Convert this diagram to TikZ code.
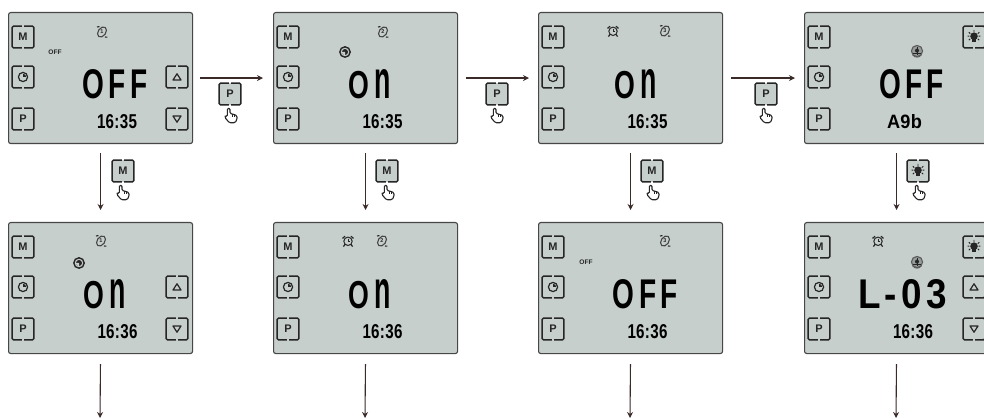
\documentclass[tikz,border=0pt]{standalone}
\usepackage{fontspec}
\usepackage{graphicx}
\setmainfont{Liberation Sans}
\usetikzlibrary{arrows.meta}
\definecolor{lcd}{HTML}{C6CFCB}
\definecolor{ink}{HTML}{262626}
\definecolor{arrowink}{HTML}{3A2A28}
\tikzset{
  lcdpanel/.style={draw=ink!85,line width=1.1pt,fill=lcd,rounded corners=2.2pt,minimum width=184pt,minimum height=131pt,inner sep=0pt,anchor=north west},
  btn/.style={minimum width=21.5pt,minimum height=21.5pt,inner sep=0pt,text=ink,font=\bfseries\fontsize{11}{11}\selectfont},
  brk/.style={draw=ink,line width=1.45pt,rounded corners=1.5pt},
  conn/.style={draw=arrowink,line width=1.1pt,-{Stealth[length=6pt,width=6pt]}},
  segbig/.style={inner sep=0pt,text=black},
  tiny/.style={inner sep=0pt,text=ink,font=\bfseries\fontsize{6.6}{7}\selectfont},
  iconclock/.pic={\draw[ink,line width=1.2pt] (0,0) circle (4.6pt);
    \fill[ink] (0,0) -- (0,-3.2) arc (90:0:3.2pt) -- cycle;},
  iconup/.pic={\draw[ink,line width=1.2pt,line join=round] (-4,3) -- (4,3) -- (0,-3.2) -- cycle;},
  icondown/.pic={\draw[ink,line width=1.2pt,line join=round] (-4,-3) -- (4,-3) -- (0,3.2) -- cycle;},
  iconbulb/.pic={\fill[ink] (0,-.8) circle (3.8pt);\fill[ink] (-1.9,1.5) rectangle (1.9,4.8);
    \draw[ink,line width=.9pt] (0,-7.2) -- (0,-5.2) (-5.2,-4.8) -- (-3.8,-3.4) (5.2,-4.8) -- (3.8,-3.4) (-6.4,-.8) -- (-4.6,-.8) (6.4,-.8) -- (4.6,-.8) (-5.2,3.2) -- (-3.8,1.8) (5.2,3.2) -- (3.8,1.8);},
  icontimer/.pic={\draw[ink!85,line width=1.1pt,rotate=-35] (0,0) ellipse (3.8pt and 5.6pt);
    \draw[ink,line width=1.1pt] (-5,-5) -- (-2.5,-5.4) (3,5) -- (5.4,5.2);
    \node[inner sep=0pt,text=ink,font=\bfseries\fontsize{5.5}{5.5}\selectfont] at (0,0) {#1};},
  iconfull/.pic={\draw[ink,line width=1.4pt,fill=lcd] (0,0) circle (5.2pt);
    \fill[ink] (0,0) circle (3pt);\fill[lcd] (0,0) -- (-3.1,0) arc (180:270:3.1pt) -- cycle;},
  iconalarm/.pic={\draw[ink,line width=1pt] (0,.3) circle (4.2pt);
    \draw[ink,line width=.8pt] (0,-2.2) -- (0,.4) -- (2,.4);
    \draw[ink,line width=1.2pt] (-5.4,-2.6) -- (-3,-4.8) (5.4,-2.6) -- (3,-4.8) (-3,3.4) -- (-4.6,5.6) (3,3.4) -- (4.6,5.6);},
  iconfan/.pic={\draw[ink!75,line width=1.1pt,fill=lcd!70!ink] (0,0) circle (5.6pt);
    \fill[ink] (0,-.4) circle (2pt);
    \draw[ink,line width=.8pt] (0,-4) -- (0,3.6) (-3.6,2.2) -- (3.6,2.2);
    \draw[ink!75,line width=1pt] (-4.2,4) .. controls (-2,6.8) and (2,6.8) .. (4.2,4);},
  iconhand/.pic={\draw[ink,line width=1.1pt,fill=white,rounded corners=1.3pt,line join=round]
    (-3.6,-7.8) -- (-1,-7.8) -- (-1,-2.4) -- (3.2,-1.6) -- (6,-.2) -- (6,3.4) -- (4,6.8) -- (-1.6,6.8) -- (-6.2,1.4) -- (-5.6,-.6) -- (-3.6,.6) -- cycle;
    \draw[ink,line width=.7pt] (1,-1.8) -- (1,.6) (3.5,-1.2) -- (3.5,.8);},
}
\newcommand\seg[3]{\resizebox{#1pt}{#2pt}{\bfseries\addfontfeature{LetterSpace=16}#3}}
\newcommand\segtime[1]{\resizebox{40pt}{14pt}{\bfseries\addfontfeature{LetterSpace=2}#1}}
\newcommand\segon{O\hspace{.22em}\scalebox{1}[1.38]{n}}
% \btn{name}{x}{y}{content}{fill}
\newcommand\btn[5]{%
  \node[btn,fill=#5] (#1) at (#2,#3) {#4};
  \draw[brk] ([xshift=-1.2pt]#1.north) -| (#1.south west) -- ([xshift=-1.2pt]#1.south);
  \draw[brk] ([xshift=1.2pt]#1.north) -| (#1.south east) -- ([xshift=1.2pt]#1.south);}
\newcommand\lcdcore[1]{%
  \btn{#1m}{15}{25}{M}{lcd}
  \btn{#1c}{15}{65}{}{lcd}
  \pic at (#1c.center) {iconclock};
  \btn{#1p}{15}{107}{P}{lcd}}
\newcommand\lcdarrows[2]{%
  \btn{#1u}{#2}{65}{}{lcd}
  \pic at (#1u.center) {iconup};
  \btn{#1d}{#2}{107}{}{lcd}
  \pic at (#1d.center) {icondown};}
\begin{document}
\begin{tikzpicture}[x=1pt,y=-1pt]
\useasboundingbox (0,0) rectangle (984,419);
\clip (0,0) rectangle (984,419);
\fill[white] (0,0) rectangle (984,419);

% ---- row 1
\node[lcdpanel] (a) at (8,12) {};
\begin{scope}[shift={(8,12)}]
  \lcdcore{a}\lcdarrows{a}{169}
  \pic at (94,20) {icontimer=1};
  \node[tiny] (aoff) at (47,40) {OFF};
  \node[segbig] (abig) at (107,72.5) {\seg{65}{29}{OFF}};
  \node[segbig] (atime) at (109,110) {\segtime{16:35}};
\end{scope}

\node[lcdpanel] (b) at (273,12) {};
\begin{scope}[shift={(273,12)}]
  \lcdcore{b}
  \pic at (110,20) {icontimer=2};
  \pic at (72,40) {iconfull};
  \node[segbig] (bbig) at (96.5,72.5) {\seg{43}{29}{\segon}};
  \node[segbig] (btime) at (109.5,110) {\segtime{16:35}};
\end{scope}

\node[lcdpanel] (c) at (538,12) {};
\begin{scope}[shift={(538,12)}]
  \lcdcore{c}
  \pic at (75,19) {iconalarm};
  \pic at (127,19) {icontimer=3};
  \node[segbig] (cbig) at (97.5,72.5) {\seg{43}{29}{\segon}};
  \node[segbig] (ctime) at (109.5,110) {\segtime{16:35}};
\end{scope}

\node[lcdpanel] (d) at (804,12) {};
\begin{scope}[shift={(804,12)}]
  \lcdcore{d}
  \btn{dl}{170}{25}{}{lcd}
  \pic at (dl.center) {iconbulb};
  \pic at (113,39) {iconfan};
  \node[segbig] (dbig) at (107.5,72.5) {\seg{65}{29}{OFF}};
  \node[segbig] (dcode) at (100.5,110) {\resizebox{35pt}{14pt}{\bfseries\addfontfeature{LetterSpace=2}A9b}};
\end{scope}

% ---- row 2
\node[lcdpanel] (e) at (8,222) {};
\begin{scope}[shift={(8,222)}]
  \lcdcore{e}\lcdarrows{e}{169}
  \pic at (93,19) {icontimer=1};
  \pic at (71,41) {iconfull};
  \node[segbig] (ebig) at (96.5,72.5) {\seg{43}{29}{\segon}};
  \node[segbig] (etime) at (109.5,110) {\segtime{16:36}};
\end{scope}

\node[lcdpanel] (f) at (273,222) {};
\begin{scope}[shift={(273,222)}]
  \lcdcore{f}
  \pic at (75,19) {iconalarm};
  \pic at (109,19) {icontimer=2};
  \node[segbig] (fbig) at (96.5,72.5) {\seg{43}{29}{\segon}};
  \node[segbig] (ftime) at (109.5,110) {\segtime{16:36}};
\end{scope}

\node[lcdpanel] (g) at (538,222) {};
\begin{scope}[shift={(538,222)}]
  \lcdcore{g}
  \pic at (127,19) {icontimer=3};
  \node[tiny] (goff) at (48,40) {OFF};
  \node[segbig] (gbig) at (107.5,72.5) {\seg{65}{29}{OFF}};
  \node[segbig] (gtime) at (109.5,110) {\segtime{16:36}};
\end{scope}

\node[lcdpanel] (h) at (804,222) {};
\begin{scope}[shift={(804,222)}]
  \lcdcore{h}\lcdarrows{h}{170}
  \btn{hl}{170}{25}{}{lcd}
  \pic at (hl.center) {iconbulb};
  \pic at (74,19) {iconalarm};
  \pic at (113,40) {iconfan};
  \node[segbig] (hbig) at (98.5,72.5) {\resizebox{89pt}{29pt}{\bfseries\addfontfeature{LetterSpace=12}L-03}};
  \node[segbig] (htime) at (109,110) {\segtime{16:36}};
\end{scope}

% ---- connectors
\draw[conn,shorten <=7pt,shorten >=10pt] (a.east) -- (b.west);
\draw[conn,shorten <=8pt,shorten >=9pt] (b.east) -- (c.west);
\draw[conn,shorten <=8pt,shorten >=9pt] (c.east) -- (d.west);
\foreach \u/\v in {a/e,b/f,c/g,d/h}
  \draw[conn,shorten <=9pt,shorten >=12pt] (\u.south) -- (\v.north);
\coordinate (eend) at (100,419);
\coordinate (fend) at (365,419);
\coordinate (gend) at (630,419);
\coordinate (hend) at (896,419);
\foreach \u/\v in {e/eend,f/fend,g/gend,h/hend}
  \draw[conn,shorten <=10pt,shorten >=1pt] (\u.south) -- (\v);

% ---- key prompts
\btn{kp1}{230}{94}{P}{lcd}
\pic at (231,116) {iconhand};
\btn{kp2}{497}{94}{P}{lcd}
\pic at (497,116) {iconhand};
\btn{kp3}{766}{94}{P}{lcd}
\pic at (766,116) {iconhand};
\btn{km1}{123}{171}{M}{lcd}
\pic at (123,193) {iconhand};
\btn{km2}{387}{171}{M}{lcd}
\pic at (388,193) {iconhand};
\btn{km3}{652}{171}{M}{lcd}
\pic at (653,193) {iconhand};
\btn{kl}{918}{171}{}{lcd}
\pic at (kl.center) {iconbulb};
\pic at (919,193) {iconhand};
\end{tikzpicture}
\end{document}
